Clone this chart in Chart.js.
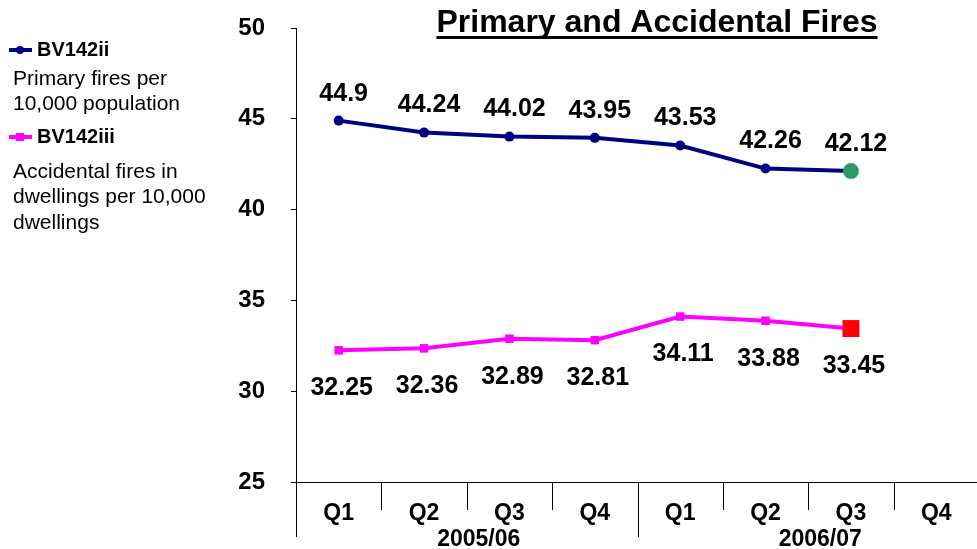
<!DOCTYPE html>
<html>
<head>
<meta charset="utf-8">
<script src="https://cdn.jsdelivr.net/npm/chart.js@4.4.1/dist/chart.umd.min.js"></script>
<style>
  body { margin: 0; background: #fff; }
  #wrap { width: 977px; height: 549px; overflow: hidden; }
</style>
</head>
<body>
<div id="wrap"><canvas id="fires" width="985" height="549"></canvas></div>
<script>
const quarters = ["Q1", "Q2", "Q3", "Q4", "Q1", "Q2", "Q3", "Q4"];
const years = ["2005/06", "2006/07"];
const primaryFires = [44.9, 44.24, 44.02, 43.95, 43.53, 42.26, 42.12, null];
const accidentalFires = [32.25, 32.36, 32.89, 32.81, 34.11, 33.88, 33.45, null];
const yTicks = [25, 30, 35, 40, 45, 50];
const seriesNames = ["BV142ii", "BV142iii"];
const seriesNotes = [
  ["Primary fires per", "10,000 population"],
  ["Accidental fires in", "dwellings per 10,000", "dwellings"]
];
const titleText = "Primary and Accidental Fires";

const FONT = '"Liberation Sans", Arial, sans-serif';
Chart.defaults.font.family = FONT;
Chart.defaults.color = '#000';

// last real point gets its own marker
function lastIdx(arr) {
  let k = -1;
  arr.forEach((v, i) => { if (v != null) k = i; });
  return k;
}
const lastP = lastIdx(primaryFires);
const lastA = lastIdx(accidentalFires);

const extras = {
  id: 'extras',
  afterDraw(chart) {
    const ctx = chart.ctx;
    const a = chart.chartArea;
    const xs = chart.scales.x;
    const w = xs.width / quarters.length;
    ctx.save();

    // category separators below the axis
    ctx.strokeStyle = '#000';
    ctx.lineWidth = 1;
    const edge = i => xs.getPixelForValue(0) - w / 2 + i * w;
    for (let i = 0; i <= quarters.length; i++) {
      const px = Math.round(edge(i)) + 0.5;
      const len = i % 4 === 0 ? 55 : 28;
      ctx.beginPath();
      ctx.moveTo(px, a.bottom);
      ctx.lineTo(px, a.bottom + len);
      ctx.stroke();
    }

    // year labels
    ctx.fillStyle = '#000';
    ctx.font = 'bold 23px ' + FONT;
    ctx.textAlign = 'center';
    ctx.textBaseline = 'middle';
    years.forEach((y, k) => {
      const cx = (edge(k * 4) + edge(k * 4 + 4)) / 2 + 12;
      ctx.fillText(y, cx, a.bottom + 58);
    });

    // data labels
    ctx.font = 'bold 25px ' + FONT;
    chart.getDatasetMeta(0).data.forEach((p, i) => {
      if (primaryFires[i] == null) return;
      ctx.fillText(String(primaryFires[i]), p.x + 5, p.y - 27);
    });
    chart.getDatasetMeta(1).data.forEach((p, i) => {
      if (accidentalFires[i] == null) return;
      ctx.fillText(String(accidentalFires[i]), p.x + 3, p.y + 38);
    });

    // title, underlined
    ctx.font = 'bold 32px ' + FONT;
    ctx.textBaseline = 'alphabetic';
    const tx = 657;
    ctx.fillText(titleText, tx, 32);
    const tw = ctx.measureText(titleText).width;
    ctx.fillRect(tx - tw / 2, 36, tw, 3);

    // legend on the left
    const legendY = [50, 137];
    const colors = ['#000080', '#ff00ff'];
    legendY.forEach((ly, k) => {
      ctx.strokeStyle = colors[k];
      ctx.fillStyle = colors[k];
      ctx.lineWidth = 4;
      ctx.beginPath();
      ctx.moveTo(9, ly);
      ctx.lineTo(32, ly);
      ctx.stroke();
      if (k === 0) {
        ctx.beginPath();
        ctx.arc(20, ly, 4, 0, Math.PI * 2);
        ctx.fill();
      } else {
        ctx.fillRect(16, ly - 4, 8, 8);
      }
      ctx.fillStyle = '#000';
      ctx.textAlign = 'left';
      ctx.textBaseline = 'middle';
      ctx.font = 'bold 20px ' + FONT;
      ctx.fillText(seriesNames[k], 37, ly);
      ctx.font = '21px ' + FONT;
      seriesNotes[k].forEach((line, j) => {
        ctx.fillText(line, 13, ly + 29 + j * 25.5 + (k === 1 ? 6 : 0));
      });
    });
    ctx.restore();
  }
};

new Chart(document.getElementById('fires').getContext('2d'), {
  type: 'line',
  data: {
    labels: quarters,
    datasets: [{
      label: seriesNames[0],
      data: primaryFires,
      borderColor: '#000080',
      borderWidth: 4,
      pointStyle: 'circle',
      pointRadius: primaryFires.map((v, i) => i === lastP ? 8 : 5),
      pointBackgroundColor: primaryFires.map((v, i) => i === lastP ? '#2e9a62' : '#000080'),
      pointBorderWidth: 0
    }, {
      label: seriesNames[1],
      data: accidentalFires,
      borderColor: '#ff00ff',
      borderWidth: 4,
      pointStyle: 'rect',
      pointRadius: accidentalFires.map((v, i) => i === lastA ? 12 : 6),
      pointBackgroundColor: accidentalFires.map((v, i) => i === lastA ? '#ff0000' : '#ff00ff'),
      pointBorderWidth: 0
    }]
  },
  options: {
    responsive: false,
    animation: false,
    layout: { padding: { top: 28, left: 0, right: 0, bottom: 0 } },
    plugins: {
      legend: { display: false },
      tooltip: { enabled: false },
      title: { display: false }
    },
    scales: {
      x: {
        offset: true,
        grid: { display: false, drawTicks: false },
        border: { display: true, color: '#000', width: 1 },
        ticks: { font: { size: 23, weight: 'bold' }, padding: 18, maxRotation: 0 },
        afterFit: s => { s.height = 67; s.paddingLeft = 0; s.paddingRight = 0; }
      },
      y: {
        min: 25,
        max: 50,
        grid: { drawOnChartArea: false, drawTicks: true, tickLength: 5, color: '#000' },
        border: { display: true, color: '#000', width: 1 },
        ticks: { font: { size: 24, weight: 'bold' }, padding: 26 },
        afterBuildTicks: s => { s.ticks = yTicks.map(v => ({ value: v })); },
        afterFit: s => { s.width = 296; s.paddingTop = 0; s.paddingBottom = 0; }
      }
    }
  },
  plugins: [extras]
});
</script>
</body>
</html>
